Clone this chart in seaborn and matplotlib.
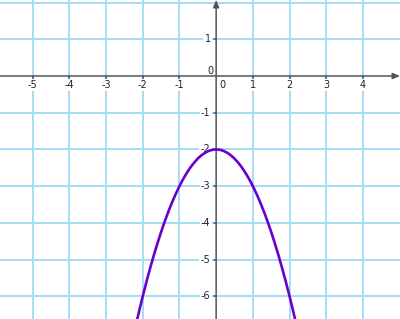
import matplotlib
matplotlib.use("Agg")
import matplotlib.pyplot as plt
import matplotlib.transforms as mtransforms
import seaborn as sns
import pandas as pd

sns.set_theme(style="white")
plt.rcParams['font.family'] = ['DejaVu Sans']

# Curve points (parabola, vertex at (0, -2))
curve_x = [-2.2, -2.1, -2.0, -1.9, -1.8, -1.7, -1.6, -1.5, -1.4, -1.3, -1.2, -1.1,
           -1.0, -0.9, -0.8, -0.7, -0.6, -0.5, -0.4, -0.3, -0.2, -0.1, 0.0,
           0.1, 0.2, 0.3, 0.4, 0.5, 0.6, 0.7, 0.8, 0.9, 1.0,
           1.1, 1.2, 1.3, 1.4, 1.5, 1.6, 1.7, 1.8, 1.9, 2.0, 2.1, 2.2]
curve_y = [-6.84, -6.41, -6.0, -5.61, -5.24, -4.89, -4.56, -4.25, -3.96, -3.69, -3.44, -3.21,
           -3.0, -2.81, -2.64, -2.49, -2.36, -2.25, -2.16, -2.09, -2.04, -2.01, -2.0,
           -2.01, -2.04, -2.09, -2.16, -2.25, -2.36, -2.49, -2.64, -2.81, -3.0,
           -3.21, -3.44, -3.69, -3.96, -4.25, -4.56, -4.89, -5.24, -5.61, -6.0, -6.41, -6.84]

x_ticks = [-5, -4, -3, -2, -1, 1, 2, 3, 4]
y_ticks = [1, -1, -2, -3, -4, -5, -6]
x_grid = [-5, -4, -3, -2, -1, 1, 2, 3, 4]
y_grid = [2, 1, -1, -2, -3, -4, -5, -6]

GRID = "#a6dcf6"
AXIS = "#555555"
CURVE = "#6a00cc"

fig = plt.figure(figsize=(4.0, 3.19), dpi=100)
ax = fig.add_axes([0, 0, 1, 1])
ax.set_xlim(-5.89, 5.01)
ax.set_ylim(-6.62, 2.07)
ax.set_axis_off()

for gx in x_grid:
    ax.axvline(gx, color=GRID, lw=1.4, zorder=1)
for gy in y_grid:
    ax.axhline(gy, color=GRID, lw=1.4, zorder=1)

# axes with arrows
ax.annotate("", xy=(5.01, 0), xytext=(-5.89, 0),
            arrowprops=dict(arrowstyle="-|>,head_length=0.35,head_width=0.15",
                            color=AXIS, lw=1.1, shrinkA=0, shrinkB=0), zorder=3)
ax.annotate("", xy=(0, 2.07), xytext=(0, -6.62),
            arrowprops=dict(arrowstyle="-|>,head_length=0.35,head_width=0.15",
                            color=AXIS, lw=1.1, shrinkA=0, shrinkB=0), zorder=3)

# tick marks
for t in x_ticks:
    ax.plot([t, t], [0, -0.07], color=AXIS, lw=1.1, zorder=3)
for t in y_ticks:
    ax.plot([0, -0.07], [t, t], color=AXIS, lw=1.1, zorder=3)

bbox = dict(boxstyle="square,pad=0.15", fc="white", ec="none")
down = mtransforms.offset_copy(ax.transData, fig=fig, x=0, y=-6.5, units="points")
for t in x_ticks:
    ax.text(t, 0, str(t), transform=down, ha="center", va="center",
            fontsize=7, color="#222222", bbox=bbox, zorder=4)
left = mtransforms.offset_copy(ax.transData, fig=fig, x=-4, y=0, units="points")
for t in y_ticks:
    ax.text(0, t, str(t), transform=left, ha="right", va="center",
            fontsize=7, color="#222222", bbox=bbox, zorder=4)

# origin labels
o1 = mtransforms.offset_copy(ax.transData, fig=fig, x=4.5, y=-6.5, units="points")
ax.text(0, 0, "0", transform=o1, ha="center", va="center", fontsize=7, color="#222222", zorder=4)
o2 = mtransforms.offset_copy(ax.transData, fig=fig, x=-4.3, y=3.6, units="points")
ax.text(0, 0, "0", transform=o2, ha="center", va="center", fontsize=7, color="#222222", zorder=4)

df = pd.DataFrame({"x": curve_x, "y": curve_y})
sns.lineplot(data=df, x="x", y="y", sort=False, estimator=None, color=CURVE,
             lw=1.9, ax=ax, zorder=5)
ax.set_xlim(-5.89, 5.01)
ax.set_ylim(-6.62, 2.07)
ax.set_axis_off()

fig.savefig("out.png", dpi=100)
